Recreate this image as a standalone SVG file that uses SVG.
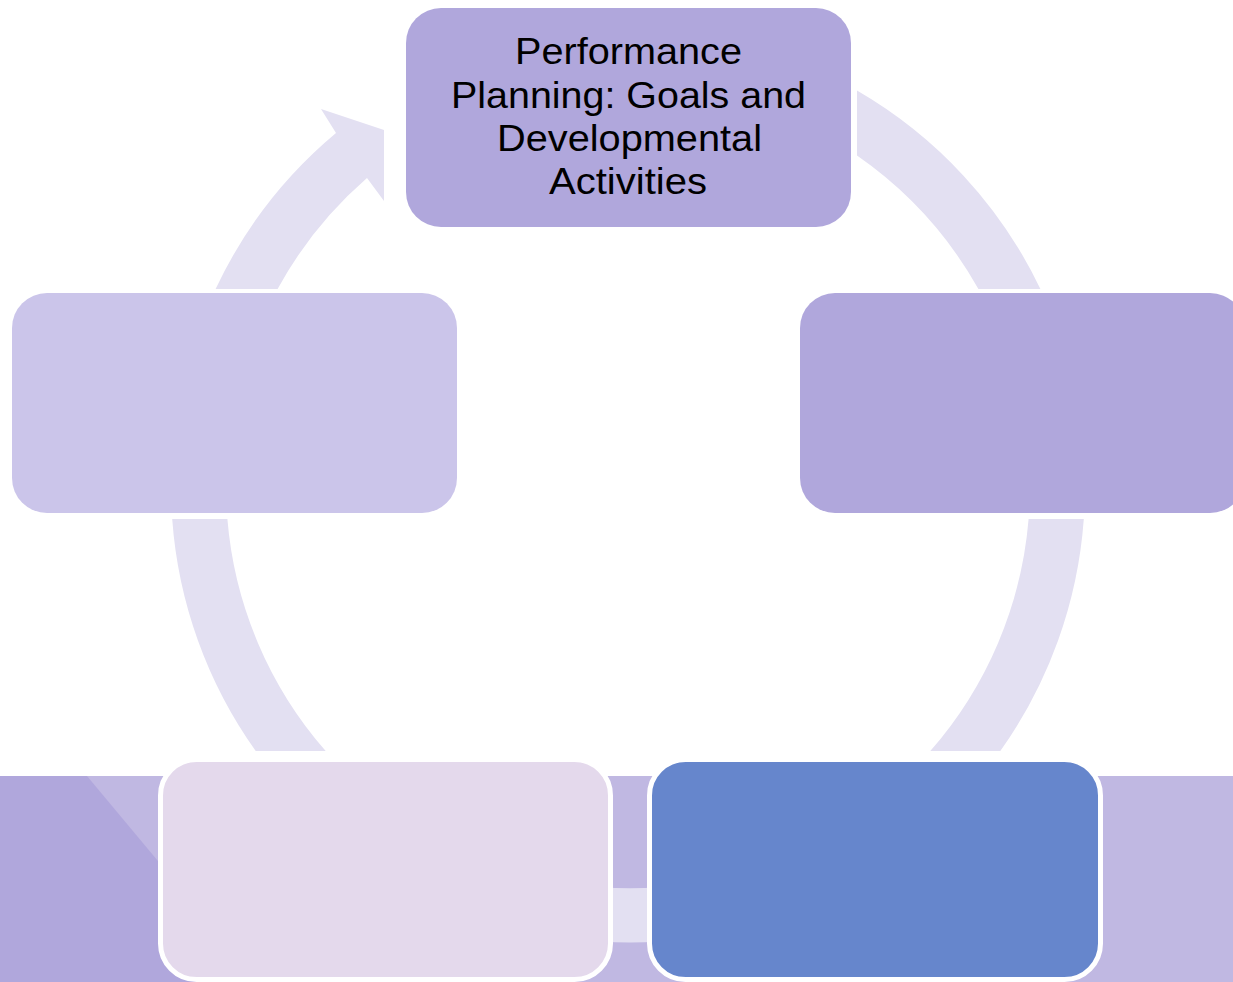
<svg xmlns="http://www.w3.org/2000/svg" width="1233" height="982" viewBox="0 0 1233 982">
  <style>
    .arc { fill: #e3e0f2; }
    .lbl { font-family: "Liberation Sans", Arial, sans-serif; font-size: 36px; fill: #000000; text-anchor: middle; }
    .bx { stroke: none; }
    .bxw { stroke: #ffffff; stroke-width: 5; }
  </style>
  <rect x="0" y="0" width="1233" height="982" fill="#ffffff"/>
  <g id="background">
    <rect x="0" y="776" width="1233" height="206" fill="#c0b8e2"/>
    <polygon points="0,776 87,776 259,982 0,982" fill="#b0a7dc"/>
  </g>
  <g id="connectors">
    <path class="arc" d="M 215.6 289 A 457 457 0 0 1 336 133 L 321 109 L 384 130 L 384 201 L 367 178 A 402 402 0 0 0 277.6 289 Z"/>
    <path class="arc" d="M 857 90.5 A 457 457 0 0 1 1040.4 289 L 978.4 289 A 402 402 0 0 0 857 155.6 Z"/>
    <path class="arc" d="M 1083.8 519 A 457 457 0 0 1 1000.3 751 L 930.3 751 A 402 402 0 0 0 1028.6 519 Z"/>
    <path class="arc" d="M 172.2 519 A 457 457 0 0 0 255.7 751 L 325.7 751 A 402 402 0 0 1 227.4 519 Z"/>
    <path class="arc" d="M 600 887.2 A 402 402 0 0 0 660 887.2 L 660 941.5 A 457 457 0 0 1 600 941.5 Z"/>
  </g>
  <g id="node-top">
    <rect class="bx" x="406" y="8" width="445" height="219" rx="35" ry="35" fill="#b0a7dc"/>
    <text class="lbl" x="628.5" y="64" textLength="227" lengthAdjust="spacingAndGlyphs">Performance</text>
    <text class="lbl" x="628.5" y="108" textLength="355" lengthAdjust="spacingAndGlyphs">Planning: Goals and</text>
    <text class="lbl" x="629.5" y="151" textLength="265" lengthAdjust="spacingAndGlyphs">Developmental</text>
    <text class="lbl" x="628" y="194" textLength="158" lengthAdjust="spacingAndGlyphs">Activities</text>
  </g>
  <g id="node-right">
    <rect class="bx" x="800" y="293" width="445" height="220" rx="35" ry="35" fill="#b0a7dc"/>
  </g>
  <g id="node-left">
    <rect class="bx" x="12" y="293" width="445" height="220" rx="35" ry="35" fill="#cbc5ea"/>
  </g>
  <g id="node-bottom-left">
    <rect class="bxw" x="160.5" y="759.5" width="450" height="220" rx="36" ry="36" fill="#e4d9ec"/>
  </g>
  <g id="node-bottom-right">
    <rect class="bxw" x="649.5" y="759.5" width="451" height="220" rx="36" ry="36" fill="#6686cc"/>
  </g>
</svg>
